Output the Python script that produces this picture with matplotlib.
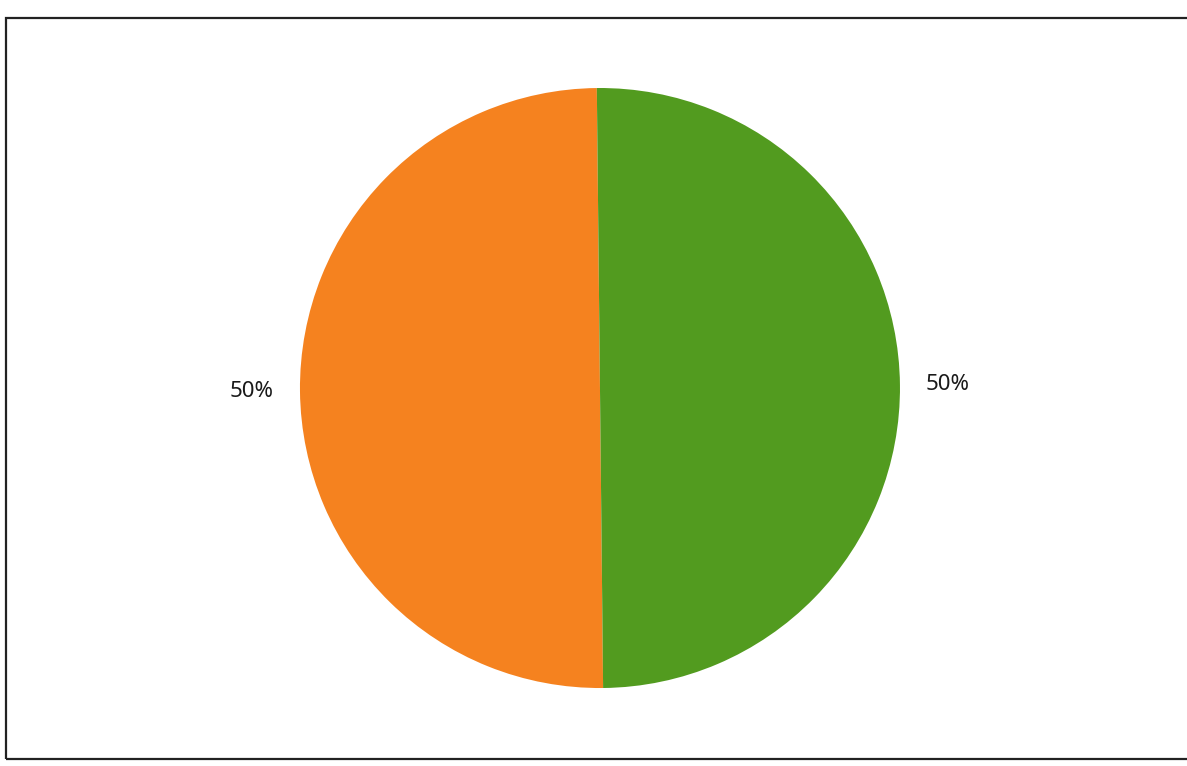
import matplotlib.pyplot as plt
from matplotlib.patches import Rectangle

labels = ['Orange', 'Green']
values = [50, 50]
colors = ['#F5821F', '#529B1F']

fig = plt.figure(figsize=(11.87, 7.66), dpi=100)
fig.patch.set_facecolor('white')

# frame of the chart area
fig.patches.append(Rectangle((6 / 1187, 7 / 766), 1.0, 741 / 766, transform=fig.transFigure,
                             fill=False, edgecolor='#222222', linewidth=1.6))

ax = fig.add_axes([0.2527, 0.1018, 0.5055, 0.7833])
ax.pie(values, colors=colors, startangle=90.6, counterclock=True,
       autopct='%1.0f%%', pctdistance=1.16,
       textprops={'fontsize': 16, 'family': 'Noto Sans', 'color': '#1a1a1a'},
       wedgeprops={'linewidth': 0})
ax.set_xlim(-1, 1)
ax.set_ylim(-1, 1)
ax.set_aspect('equal')

fig.savefig('out.png', dpi=100, facecolor='white')
